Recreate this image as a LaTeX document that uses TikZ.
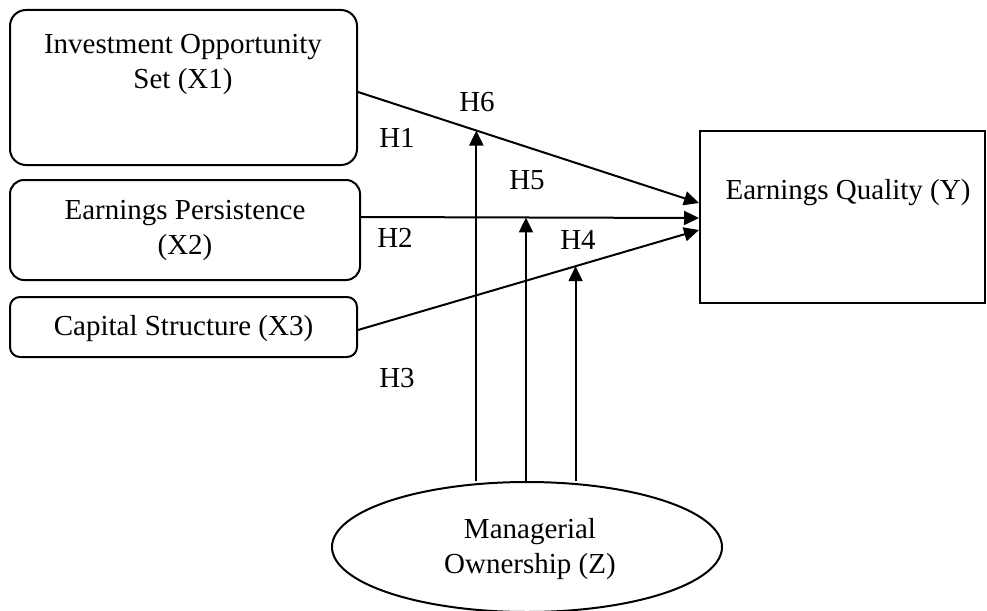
\documentclass[tikz,border=0pt]{standalone}
\usepackage{fontspec}
\setmainfont{Liberation Serif}
\usetikzlibrary{arrows.meta,shapes.geometric}
\begin{document}
\begin{tikzpicture}[x=1pt,y=-1pt,
  txt/.style={font=\fontsize{29}{35.5}\selectfont, align=center, inner sep=0pt},
  box/.style={draw, line width=2pt, inner sep=0pt},
  arr/.style={line width=2pt, -{Triangle[length=15pt,width=14pt]}}
]
\useasboundingbox (0,0) rectangle (987,610);
\node[box, rounded corners=16pt, minimum width=347pt, minimum height=155pt] (x1) at (183.5,87.5) {};
\node[txt] (x1t) at (183,64.5) {Investment Opportunity\\Set (X1)};
\node[box, rounded corners=14pt, minimum width=350pt, minimum height=100pt] (x2) at (185,230) {};
\node[txt] (x2t) at (185,230.5) {Earnings Persistence\\(X2)};
\node[box, rounded corners=10pt, minimum width=347pt, minimum height=60pt] (x3) at (183.5,327) {};
\node[txt] (x3t) at (183.5,329) {Capital Structure (X3)};
\node[box, minimum width=285pt, minimum height=172pt] (y) at (842.5,217) {};
\node[txt] (yt) at (848,193) {Earnings Quality (Y)};
\node[box, ellipse, minimum width=390pt, minimum height=130pt] (z) at (527,547) {};
\node[txt] (zt) at (530,549) {Managerial\\Ownership (Z)};

\draw[arr] ([yshift=-4.5pt]x1.east) -- node[pos=0.347, coordinate](m1){} ([yshift=14pt]y.west);
\draw[arr] ([yshift=13pt]x2.east) -- node[pos=0.488, coordinate](m2){} ([yshift=-1pt]y.west);
\draw[arr] ([yshift=-3pt]x3.east) -- node[pos=0.638, coordinate](m3){} ([yshift=-13pt]y.west);

\draw[arr] (z.north -| m1) -- (m1);
\draw[arr] (z.north -| m2) -- (m2);
\draw[arr] (z.north -| m3) -- (m3);

\node[txt] (h6) at (477,102) {H6};
\node[txt] (h1) at (397,138) {H1};
\node[txt] (h5) at (527,180) {H5};
\node[txt] (h2) at (395,238) {H2};
\node[txt] (h4) at (578,240) {H4};
\node[txt] (h3) at (397,378) {H3};
\end{tikzpicture}
\end{document}
